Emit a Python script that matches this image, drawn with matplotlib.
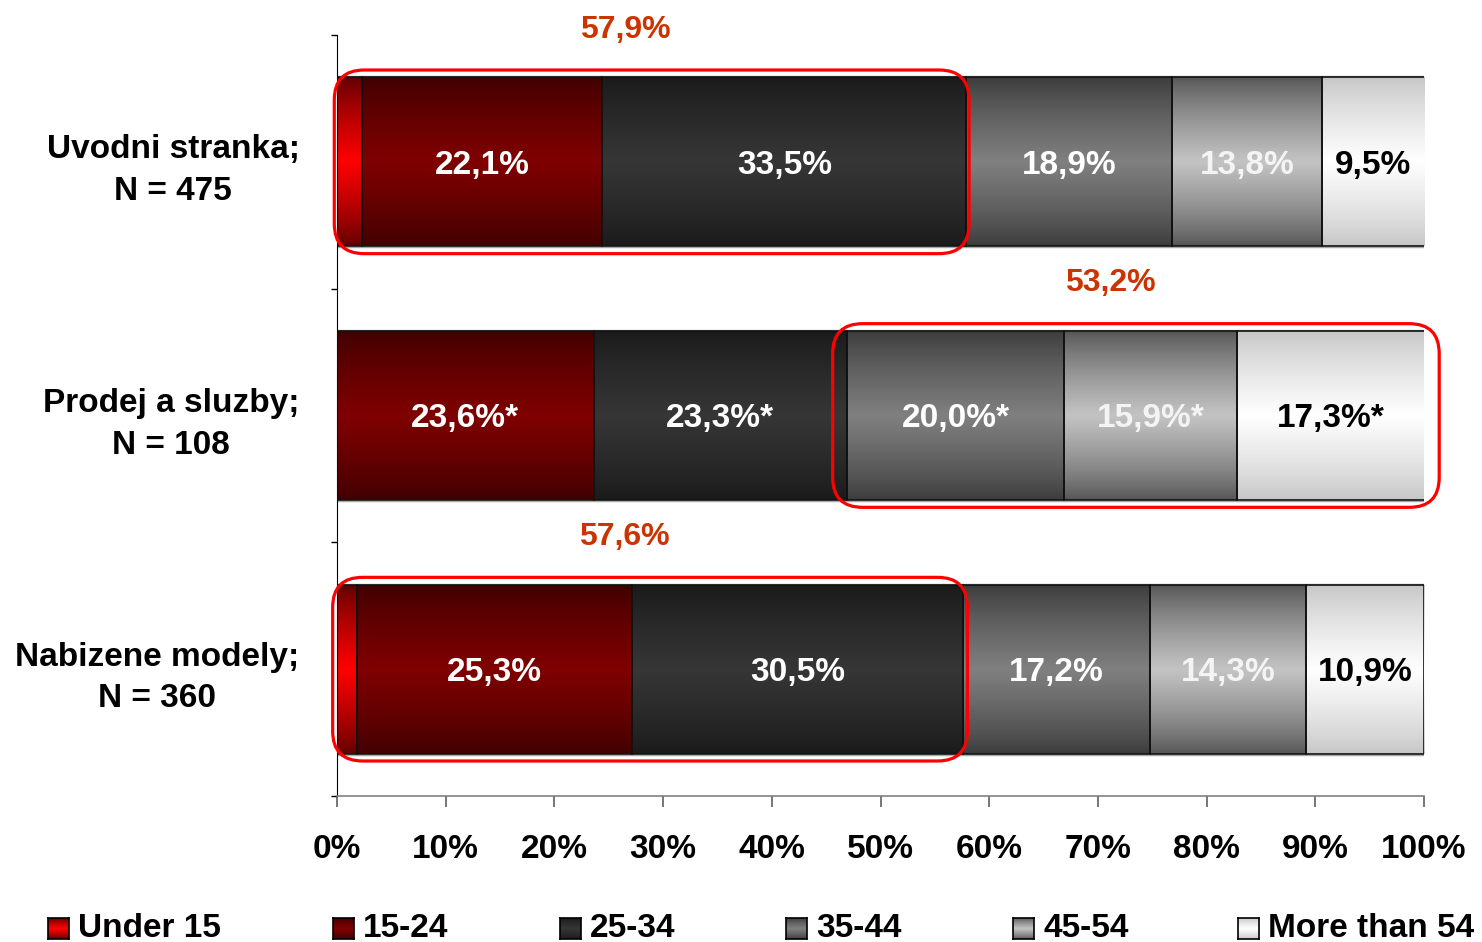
import matplotlib
matplotlib.use("Agg")
import matplotlib.pyplot as plt
import numpy as np
from matplotlib.patches import Rectangle, FancyBboxPatch

plt.rcParams['font.family'] = ['Liberation Sans', 'DejaVu Sans']
plt.rcParams['font.weight'] = 'bold'

# age structure per page (percent)
categories = ['Uvodni stranka;\nN = 475', 'Prodej a sluzby;\nN = 108', 'Nabizene modely;\nN = 360']
age_groups = ['Under 15', '15-24', '25-34', '35-44', '45-54', 'More than 54']
under15 = [2.3, 0.0, 1.8]
a15_24 = [22.1, 23.6, 25.3]
a25_34 = [33.5, 23.3, 30.5]
a35_44 = [18.9, 20.0, 17.2]
a45_54 = [13.8, 15.9, 14.3]
over54 = [9.5, 17.3, 10.9]
seg_labels = [
    ['', '22,1%', '33,5%', '18,9%', '13,8%', '9,5%'],
    ['', '23,6%*', '23,3%*', '20,0%*', '15,9%*', '17,3%*'],
    ['', '25,3%', '30,5%', '17,2%', '14,3%', '10,9%'],
]
# highlighted groups: (first segment, last segment + 1) and their totals
groups = [(0, 3), (3, 6), (0, 3)]
group_labels = ['57,9%', '53,2%', '57,6%']
xticks = [0, 10, 20, 30, 40, 50, 60, 70, 80, 90, 100]
xtick_labels = ['0%', '10%', '20%', '30%', '40%', '50%', '60%', '70%', '80%', '90%', '100%']

# gradient colours (edge, centre) per age group
grad_cols = [
    ('#600000', '#ff0000'),
    ('#400000', '#800000'),
    ('#1a1a1a', '#363636'),
    ('#3c3c3c', '#808080'),
    ('#565656', '#c4c4c4'),
    ('#c6c6c6', '#ffffff'),
]
text_cols = ['white', 'white', 'white', 'white', '#f4f4f4', 'black']


def hex2rgb(h):
    return np.array([int(h[i:i + 2], 16) for i in (1, 3, 5)]) / 255.0


def gradient(edge, centre, n=80):
    t = np.linspace(0, 1, n)
    w = (1 - np.abs(2 * t - 1)) ** 0.8
    c0, c1 = hex2rgb(edge), hex2rgb(centre)
    g = c0[None, :] * (1 - w[:, None]) + c1[None, :] * w[:, None]
    return np.repeat(g[:, None, :], 2, axis=1)


W, H = 1482, 942
fig = plt.figure(figsize=(W / 100, H / 100), dpi=100)
ax_l, ax_r, ax_t, ax_b = 337, 1424, 35, 796
ax = fig.add_axes([ax_l / W, 1 - ax_b / H, (ax_r - ax_l) / W, (ax_b - ax_t) / H])

data = np.array([under15, a15_24, a25_34, a35_44, a45_54, over54]).T
bar_h = 0.665

for i, row in enumerate(data):
    left = 0.0
    for j, v in enumerate(row):
        if v > 0:
            ax.imshow(gradient(*grad_cols[j]), extent=[left, left + v, i + bar_h / 2, i - bar_h / 2],
                      aspect='auto', interpolation='bilinear', zorder=2)
            ax.add_patch(Rectangle((left, i - bar_h / 2), v, bar_h, fill=False,
                                   edgecolor='#111111', lw=1.2, zorder=3))
            if seg_labels[i][j]:
                ax.text(left + v / 2, i, seg_labels[i][j], ha='center', va='center_baseline',
                        fontsize=24, fontweight='bold', color=text_cols[j], zorder=4)
        left += v
    # light frame around the whole bar
    ax.add_patch(Rectangle((0, i - bar_h / 2 - 0.004), row.sum(), bar_h + 0.008, fill=False,
                           edgecolor='#a8a8a8', lw=1.0, zorder=1.5))

ax.set_xlim(0, 100)
ax.set_ylim(2.5, -0.5)

# rounded red frames around highlighted groups
px_x = (ax_r - ax_l) / 100.0
px_y = (ax_b - ax_t) / 3.0
aspect = px_x / px_y
radius = 30 / px_x
pads = [0.25, 1.3, 0.4]
for i, (a, b) in enumerate(groups):
    start = data[i, :a].sum()
    end = data[i, :b].sum()
    x0 = start - pads[i]
    x1 = end + pads[i]
    y0 = i - 0.362
    ax.add_patch(FancyBboxPatch((x0, y0), x1 - x0, 0.724,
                                boxstyle=f"round,pad=0,rounding_size={radius}",
                                mutation_aspect=aspect, fill=False, edgecolor='#ff0000',
                                lw=2.3, zorder=5, clip_on=False))
    ax.text((start + end) / 2 - 2.4, i - 0.535, group_labels[i], ha='center', va='center_baseline',
            fontsize=23, fontweight='bold', color='#cc3300')

# axes styling
for s in ['top', 'right']:
    ax.spines[s].set_visible(False)
ax.spines['left'].set_color('black')
ax.spines['bottom'].set_color('#808080')
ax.spines['bottom'].set_linewidth(1.2)

ax.set_xticks(xticks, labels=xtick_labels)
ax.tick_params(axis='x', direction='out', length=8, width=1.2, color='#606060',
               pad=19, labelsize=24)
for t in ax.get_xticklabels():
    t.set_fontweight('bold')

ax.set_yticks(range(3), labels=categories)
ax.set_yticks([-0.5, 0.5, 1.5, 2.5], minor=True)
ax.tick_params(axis='y', which='major', length=0, pad=27, labelsize=24)
ax.tick_params(axis='y', which='minor', length=4, width=1, color='black')
for t in ax.get_yticklabels():
    t.set_multialignment('center')
    t.set_fontweight('bold')
    t.set_linespacing(1.45)

# legend along the bottom
leg_x = [48, 333, 560, 786, 1013, 1238]
box = 21
for k, name in enumerate(age_groups):
    lx = fig.add_axes([leg_x[k] / W, 1 - 939 / H, box / W, box / H])
    lx.imshow(gradient(*grad_cols[k]), aspect='auto', interpolation='bilinear')
    lx.set_xticks([])
    lx.set_yticks([])
    for s in lx.spines.values():
        s.set_color('black')
        s.set_linewidth(1.2)
    fig.text((leg_x[k] + box + 9) / W, 1 - 928.5 / H, name, ha='left', va='center',
             fontsize=24, fontweight='bold', color='black')

fig.savefig('out.png', dpi=100)
